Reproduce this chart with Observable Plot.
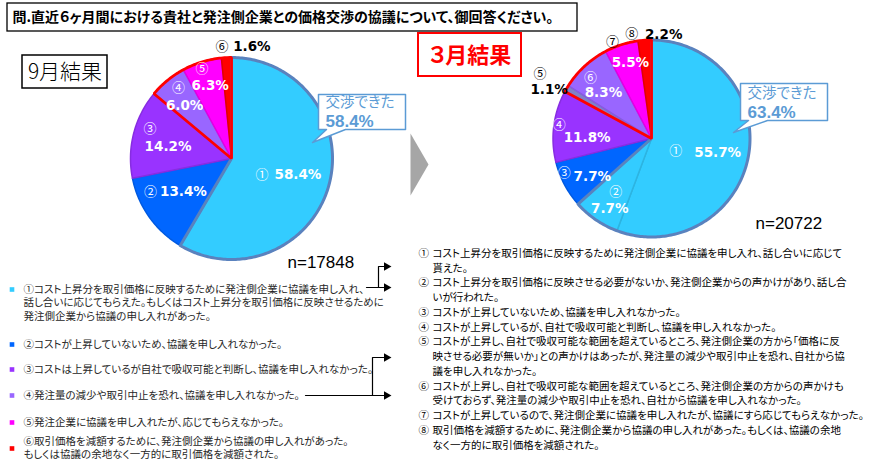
<!DOCTYPE html>
<html><head><meta charset="utf-8">
<script src="https://cdn.jsdelivr.net/npm/d3@7"></script>
<script src="https://cdn.jsdelivr.net/npm/@observablehq/plot@0.6"></script>
<style>
body{margin:0;background:#fff}
#chart svg{display:block}
#chart svg text{font-feature-settings:"palt"}
</style>
</head><body><div id="chart"></div>
<script>
// ---------- data ----------
const titleText = "問.直近６ヶ月間における貴社と発注側企業との価格交渉の協議について、御回答ください。";
const sepTitle = "9月結果";
const marTitle = "３月結果";
const negotiatedText = "交渉できた";
const sepNumbers = ["①","②","③","④","⑤","⑥"];
const sepValues  = [58.4, 13.4, 14.2, 6.0, 6.3, 1.6];
const marNumbers = ["①","②","③","④","⑤","⑥","⑦","⑧"];
const marValues  = [55.7, 7.7, 7.7, 11.8, 1.1, 8.3, 5.5, 2.2];
const sepNegotiatedCount = 1;   // ① = 交渉できた
const marNegotiatedCount = 2;   // ①+② = 交渉できた
const sepRedGroup = [3, 6];     // ④〜⑥
const marRedGroup = [4, 8];     // ⑤〜⑧
const sepN = 17848;
const marN = 20722;
const sepLegend = [
  ["①コスト上昇分を取引価格に反映するために発注側企業に協議を申し入れ、","話し合いに応じてもらえた。もしくはコスト上昇分を取引価格に反映させるために","発注側企業から協議の申し入れがあった。"],
  ["②コストが上昇していないため、協議を申し入れなかった。"],
  ["③コストは上昇しているが自社で吸収可能と判断し、協議を申し入れなかった。"],
  ["④発注量の減少や取引中止を恐れ、協議を申し入れなかった。"],
  ["⑤発注企業に協議を申し入れたが、応じてもらえなかった。"],
  ["⑥取引価格を減額するために、発注側企業から協議の申し入れがあった。","もしくは協議の余地なく一方的に取引価格を減額された。"]
];
const marLegend = [
  ["コスト上昇分を取引価格に反映するために発注側企業に協議を申し入れ、話し合いに応じて","貰えた。"],
  ["コスト上昇分を取引価格に反映させる必要がないか、発注側企業からの声かけがあり、話し合","いが行われた。"],
  ["コストが上昇していないため、協議を申し入れなかった。"],
  ["コストが上昇しているが、自社で吸収可能と判断し、協議を申し入れなかった。"],
  ["コストが上昇し、自社で吸収可能な範囲を超えているところ、発注側企業の方から「価格に反","映させる必要が無いか」との声かけはあったが、発注量の減少や取引中止を恐れ、自社から協","議を申し入れなかった。"],
  ["コストが上昇し、自社で吸収可能な範囲を超えているところ、発注側企業の方からの声かけも","受けておらず、発注量の減少や取引中止を恐れ、自社から協議を申し入れなかった。"],
  ["コストが上昇しているので、発注側企業に協議を申し入れたが、協議にすら応じてもらえなかった。"],
  ["取引価格を減額するために、発注側企業から協議の申し入れがあった。もしくは、協議の余地","なく一方的に取引価格を減額された。"]
];

// ---------- styles / layout ----------
const sepColors = ["#33ccff","#0066ff","#9933ff","#9966ff","#ff00ff","#ff0000"];
const marColors = ["#33ccff","#33ccff","#0066ff","#9933ff","#8080c8","#9966ff","#ff00ff","#ff0000"];
const sepPie = {cx:231, cy:158, r:101};
const marPie = {cx:651, cy:138, r:98.5};
// per slice: [k, number dx, dy, value dx, dy, numberColor, valueColor]
const sepLab = [
  [0.60,-28,0, 8,0,"#fff","#fff"],
  [0.62,-30,-3, 3,-3,"#fff","#fff"],
  [0.72,-11,-12, 7,6,"#fff","#fff"],
  [0.78,-3,-10, 3,8,"#fff","#fff"],
  [0.82,-5,-11, 3,6,"#fff","#fff"],
  [1.10,-4,-1, 26,-1,"#000","#000"]
];
const marLab = [
  [0.60,-34,2, 8,4,"#fff","#fff"],
  [0.75,6,-8, 0,9,"#fff","#fff"],
  [0.76,-21,-1, 7,3,"#fff","#fff"],
  [0.72,-22,-5, 6,8,"#fff","#fff"],
  [1.17,-12,-6, -3,10,"#000","#000"],
  [0.72,-13,-9, 0,6,"#fff","#fff"],
  [0.80,-15,-22, 3,-1,"#000","#fff"],
  [1.00,-13,-6, 19,-6,"#000","#000"]
];

const JP = "'Noto Sans CJK JP', sans-serif";
const NUM = "'DejaVu Sans', 'Noto Sans CJK JP', sans-serif";
const LAT = "'Liberation Sans', sans-serif";

function arcPoly(cx, cy, r, a0, a1, id, extra) {
  const pts = [{x:cx, y:cy, id, ...extra}];
  const n = Math.max(2, Math.ceil((a1 - a0) / (Math.PI / 180)));
  for (let j = 0; j <= n; j++) {
    const a = a0 + (a1 - a0) * j / n;
    pts.push({x: cx + r * Math.sin(a), y: cy - r * Math.cos(a), id, ...extra});
  }
  return pts;
}

function pieParts(values, numbers, colors, pie, lab, negCount, redGroup, key) {
  const total = d3.sum(values);
  const cum = [0];
  values.forEach(v => cum.push(cum[cum.length - 1] + v));
  const ang = c => c / total * 2 * Math.PI;
  const slices = [], nums = [], vals = [];
  values.forEach((v, i) => {
    const a0 = ang(cum[i]), a1 = ang(cum[i + 1]);
    const col = colors[i];
    slices.push(...arcPoly(pie.cx, pie.cy, pie.r, a0, a1, key + i,
      {fill: col, edge: d3.color(col).darker(0.35).formatHex()}));
    const mid = (a0 + a1) / 2, [k, ndx, ndy, vdx, vdy, nc, vc] = lab[i];
    const ax = pie.cx + k * pie.r * Math.sin(mid), ay = pie.cy - k * pie.r * Math.cos(mid);
    nums.push({x: ax + ndx, y: ay + ndy, text: numbers[i], fill: nc});
    vals.push({x: ax + vdx, y: ay + vdy, text: v.toFixed(1) + "%", fill: vc});
  });
  const blue = arcPoly(pie.cx, pie.cy, pie.r, 0, ang(cum[negCount]), key + "blue", {});
  const red = arcPoly(pie.cx, pie.cy, pie.r, ang(cum[redGroup[0]]), ang(cum[redGroup[1]]), key + "red", {});
  const negotiated = d3.sum(values.slice(0, negCount));
  return {slices, nums, vals, blue, red, negotiated};
}

const sep = pieParts(sepValues, sepNumbers, sepColors, sepPie, sepLab, sepNegotiatedCount, sepRedGroup, "s");
const mar = pieParts(marValues, marNumbers, marColors, marPie, marLab, marNegotiatedCount, marRedGroup, "m");

// callouts: box + tail
function callout(b, id) {
  return [
    {x:b.x1, y:b.y1}, {x:b.x2, y:b.y1}, {x:b.x2, y:b.y2}, {x:b.tr, y:b.y2},
    {x:b.tx, y:b.ty}, {x:b.tl, y:b.y2}, {x:b.x1, y:b.y2}
  ].map(p => ({...p, id}));
}
const sepCallBox = {x1:318, x2:405, y1:94, y2:129, tl:326, tr:345, tx:312, ty:142};
const marCallBox = {x1:740, x2:827, y1:83, y2:120, tl:748, tr:767, tx:733, ty:132};
const callouts = [...callout(sepCallBox, "c1"), ...callout(marCallBox, "c2")];
const callLabels = [
  {x:325, y:102, t:negotiatedText},
  {x:747, y:93, t:negotiatedText}
];
const callValues = [
  {x:325, y:121, t:sep.negotiated.toFixed(1) + "%"},
  {x:747, y:112, t:mar.negotiated.toFixed(1) + "%"}
];

// chevron
const chevron = [{x:410,y:133},{x:428,y:164},{x:410,y:195}];

// boxes
const boxes = [
  {x1:7, x2:577, y1:3, y2:31, stroke:"#000", sw:1.3},
  {x1:22, x2:107, y1:55, y2:88, stroke:"#000", sw:1.5},
  {x1:418, x2:521, y1:33, y2:76, stroke:"#ff0000", sw:2}
];

// legends
const sepLegendY = [289, 344, 369, 395, 422, 441];
const sepSquareY = [289, 344, 369, 395, 422, 448];
const sepLine = 13.5;
const sepLegendRows = sepLegend.flatMap((lines, i) => lines.map((t, j) => ({x:23, y:sepLegendY[i] + j * sepLine, t})));
const sepSquares = sepColors.map((c, i) => ({x:11.5, y:sepSquareY[i], c}));
const marStart = 253, marLine = 14.75;
let li = 0;
const marLegendRows = [], marLegendNums = [];
marLegend.forEach((lines, i) => {
  marLegendNums.push({x:418, y:marStart + li * marLine, t:marNumbers[i]});
  lines.forEach(t => { marLegendRows.push({x:432, y:marStart + li * marLine, t}); li++; });
});

// connectors
const connectors = [
  {id:"a", x:366, y:287}, {id:"a", x:378, y:287},
  {id:"b", x:384, y:266}, {id:"b", x:378, y:266}, {id:"b", x:378, y:287}, {id:"b", x:384, y:287},
  {id:"c", x:305, y:395}, {id:"c", x:384, y:395},
  {id:"d", x:372, y:395}, {id:"d", x:372, y:357}, {id:"d", x:384, y:357}
];
const heads = [{x:386,y:266},{x:386,y:287},{x:386,y:357},{x:386,y:395}];

const nTexts = [
  {x:287, y:262, t:"n=" + sepN},
  {x:755, y:223, t:"n=" + marN}
];

const chart = Plot.plot({
  width: 891, height: 470, margin: 0,
  x: {type:"linear", domain:[0, 891], range:[0, 891], axis:null},
  y: {type:"linear", domain:[0, 470], range:[0, 470], axis:null},
  color: {type:"identity"},
  style: {fontFamily: JP, background:"#fff"},
  marks: [
    Plot.rect(boxes, {x1:"x1", x2:"x2", y1:"y1", y2:"y2", fill:"#fff", stroke:"stroke", strokeWidth: d => d.sw}),
    Plot.text([titleText], {x:12, y:17, text:d => d, textAnchor:"start", fontSize:14, fontWeight:"bold", fill:"#000", fontFamily:JP}),
    Plot.text([sepTitle], {x:64.5, y:72, text:d => d, fontSize:21, fontWeight:300, fill:"#000", fontFamily:JP}),
    Plot.text([marTitle], {x:469.5, y:55, text:d => d, fontSize:22, fontWeight:"bold", fill:"#ff0000", fontFamily:JP}),
    // pies
    Plot.line(sep.slices, {x:"x", y:"y", z:"id", fill:"fill", stroke:"edge", strokeWidth:1.5, curve:"linear-closed"}),
    Plot.line(mar.slices, {x:"x", y:"y", z:"id", fill:"fill", stroke:"edge", strokeWidth:1.5, curve:"linear-closed"}),
    Plot.line([...sep.blue, ...mar.blue], {x:"x", y:"y", z:"id", stroke:"#5a82be", strokeWidth:3, curve:"linear-closed", strokeLinejoin:"round"}),
    Plot.line([...sep.red, ...mar.red], {x:"x", y:"y", z:"id", stroke:"#ff0000", strokeWidth:2.8, curve:"linear-closed", strokeLinejoin:"miter"}),
    Plot.text([...sep.nums, ...mar.nums], {x:"x", y:"y", text:"text", fill:"fill", fontSize:13, fontFamily:JP}),
    Plot.text([...sep.vals, ...mar.vals], {x:"x", y:"y", text:"text", fill:"fill", fontSize:13.5, fontWeight:"bold", fontFamily:NUM}),
    // callouts
    Plot.line(callouts, {x:"x", y:"y", z:"id", fill:"#fff", stroke:"#5b9bd5", strokeWidth:1.5, curve:"linear-closed"}),
    Plot.text(callLabels, {x:"x", y:"y", text:"t", textAnchor:"start", fill:"#5b9bd5", fontSize:14.5, fontFamily:JP}),
    Plot.text(callValues, {x:"x", y:"y", text:"t", textAnchor:"start", fill:"#5b9bd5", fontSize:17, fontWeight:"bold", fontFamily:LAT}),
    // chevron
    Plot.line(chevron, {x:"x", y:"y", fill:"#a6a6a6", stroke:"none", curve:"linear-closed"}),
    // n
    Plot.text(nTexts, {x:"x", y:"y", text:"t", textAnchor:"start", fontSize:17, fill:"#000", fontFamily:LAT}),
    // legends
    Plot.dot(sepSquares, {x:"x", y:"y", symbol:"square", r:2.6, fill:"c"}),
    Plot.text(sepLegendRows, {x:"x", y:"y", text:"t", textAnchor:"start", fontSize:10.5, fill:"#262626", fontFamily:JP}),
    Plot.text(marLegendNums, {x:"x", y:"y", text:"t", textAnchor:"start", fontSize:10.5, fill:"#000", fontFamily:JP}),
    Plot.text(marLegendRows, {x:"x", y:"y", text:"t", textAnchor:"start", fontSize:10.5, fill:"#000", fontFamily:JP}),
    // connectors
    Plot.line(connectors, {x:"x", y:"y", z:"id", stroke:"#000", strokeWidth:1.2}),
    Plot.dot(heads, {x:"x", y:"y", symbol:"triangle", rotate:90, r:3.2, fill:"#000"})
  ]
});
document.getElementById("chart").appendChild(chart);
</script>
</body></html>
